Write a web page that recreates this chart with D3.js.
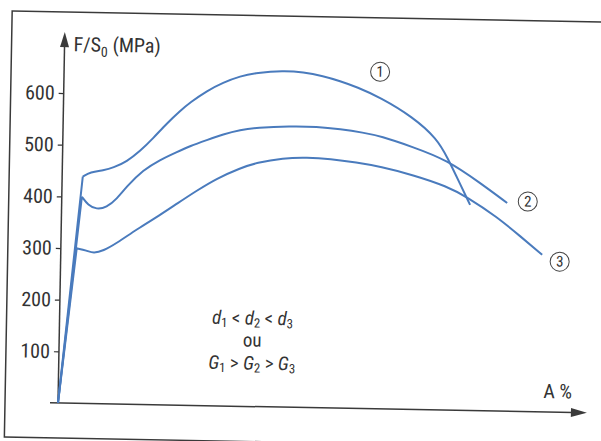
<!DOCTYPE html>
<html>
<head>
<meta charset="utf-8">
<script src="https://cdn.jsdelivr.net/npm/d3@7.9.0/dist/d3.min.js"></script>
<style>
  body { margin: 0; background: #fff; }
  svg { display: block; }
  text { font-family: "Liberation Sans Narrow", "Roboto Condensed", "Liberation Sans", Arial, sans-serif; fill: #333; }
</style>
</head>
<body>
<svg id="chart" width="601" height="441"></svg>
<script>
// y graduations (MPa)
const yTicks = [100, 200, 300, 400, 500, 600];

// A % has no graduation in the original, x is in arbitrary units along the axis
// [A, F/S0]
const curve1 = [[0, 0], [3.9, 439], [5.3, 448], [7.8, 452], [9.6, 457], [12.2, 470], [14.6, 490],
  [17.1, 516], [19.6, 545], [22.1, 570], [23.9, 586], [27.0, 609], [30.1, 626], [33.3, 639],
  [36.4, 646], [41.4, 651], [45.2, 649], [49.0, 642], [52.2, 633], [55.4, 622], [59.8, 603],
  [66.1, 566], [70.7, 525], [72.7, 490], [75.3, 437], [77.2, 398]];

const curve2 = [[0, 0], [3.8, 400], [5.0, 384], [6.6, 376], [8.5, 380], [10.4, 397], [12.2, 421],
  [15.3, 454], [18.4, 474], [21.6, 490], [24.1, 502], [27.2, 514], [30.3, 526], [33.5, 535],
  [36.6, 540], [42.9, 544], [48.0, 544], [52.4, 540], [56.8, 534], [60.0, 528], [66.2, 508],
  [72.7, 484], [79.0, 441], [84.2, 403]];

const curve3 = [[0, 0], [3.0, 300], [4.9, 296], [6.2, 291], [8.0, 296], [10.5, 311], [14.3, 339],
  [18.6, 367], [21.8, 390], [25.5, 416], [29.2, 440], [33.6, 461], [36.7, 472], [41.7, 482],
  [46.2, 484], [50.6, 482], [55.6, 476], [60.1, 469], [66.3, 454], [72.8, 433], [76.6, 413],
  [82.3, 376], [86.8, 339], [91.0, 304]];

const curves = [curve1, curve2, curve3];
const curveLabels = ['1', '2', '3'];

const svg = d3.select('#chart');

const x0 = 58, y0 = 403;
const xScale = d3.scaleLinear().domain([0, 100]).range([x0, x0 + 529]);
const yScale = d3.scaleLinear().domain([0, 600]).range([y0, y0 - 310]);

// the scanned page is slightly tilted
const g = svg.append('g').attr('transform', `rotate(1.05, ${x0}, ${y0})`);

// page frame
g.append('rect')
  .attr('x', 5).attr('y', 12)
  .attr('width', 640).attr('height', 426)
  .attr('fill', 'none')
  .attr('stroke', '#3a3a3a')
  .attr('stroke-width', 1.5);

// y axis ticks + labels
const yAxis = d3.axisLeft(yScale).tickValues(yTicks).tickSize(5).tickPadding(4);
const ya = g.append('g').attr('transform', `translate(${x0},0)`).call(yAxis);
ya.select('.domain').remove();
ya.selectAll('.tick line').attr('stroke', '#333').attr('stroke-width', 1.2);
ya.selectAll('.tick text')
  .style('font-family', '"Liberation Sans Narrow", "Roboto Condensed", "Liberation Sans", Arial, sans-serif')
  .style('font-size', '20px')
  .attr('fill', '#333');

// axis lines with arrows
const axisColor = '#3a3a3a';
g.append('line')
  .attr('x1', x0).attr('y1', y0)
  .attr('x2', x0).attr('y2', y0 - 358)
  .attr('stroke', axisColor).attr('stroke-width', 1.5);
g.append('path')
  .attr('d', `M${x0},${y0 - 371} L${x0 - 4.5},${y0 - 356} L${x0 + 4.5},${y0 - 356} Z`)
  .attr('fill', axisColor);

g.append('line')
  .attr('x1', x0 - 8).attr('y1', y0)
  .attr('x2', xScale(100) - 14).attr('y2', y0)
  .attr('stroke', axisColor).attr('stroke-width', 1.5);
g.append('path')
  .attr('d', `M${xScale(100)},${y0} L${xScale(100) - 16},${y0 - 4.5} L${xScale(100) - 16},${y0 + 4.5} Z`)
  .attr('fill', axisColor);

// axis titles
const yt = g.append('text')
  .attr('x', x0 + 9).attr('y', 51)
  .style('font-size', '20px');
yt.append('tspan').text('F/S');
yt.append('tspan').attr('dy', 5).style('font-size', '14px').text('0');
yt.append('tspan').attr('dy', -5).text(' (MPa)');

g.append('text')
  .attr('x', 543).attr('y', 389)
  .style('font-size', '20px')
  .text('A %');

// curves: elastic part straight, plastic part smoothed
const lineStraight = d3.line().x(d => xScale(d[0])).y(d => yScale(d[1]));
const lineSmooth = d3.line().x(d => xScale(d[0])).y(d => yScale(d[1])).curve(d3.curveBasis);

g.append('g')
  .selectAll('path')
  .data(curves)
  .join('path')
  .attr('d', d => lineStraight(d.slice(0, 2)) + lineSmooth(d.slice(1)))
  .attr('fill', 'none')
  .attr('stroke', '#4a7bbd')
  .attr('stroke-width', 2)
  .attr('stroke-linejoin', 'round');

// circled numbers
const labelPos = [[374, 66], [524, 193], [557, 252.5]];
const lab = g.append('g')
  .selectAll('g')
  .data(curveLabels)
  .join('g')
  .attr('transform', (d, i) => `translate(${labelPos[i][0]},${labelPos[i][1]})`);
lab.append('circle')
  .attr('r', 9.5)
  .attr('fill', '#fff')
  .attr('stroke', '#444')
  .attr('stroke-width', 1);
lab.append('text')
  .attr('text-anchor', 'middle')
  .attr('y', 5)
  .style('font-size', '15px')
  .text(d => d);

// annotation
function relation(y, letter, op) {
  const t = g.append('text')
    .attr('x', 251).attr('y', y)
    .attr('text-anchor', 'middle')
    .style('font-size', '19px');
  [1, 2, 3].forEach((n, i) => {
    t.append('tspan').style('font-style', 'italic').text(letter);
    t.append('tspan').attr('dy', 3).style('font-size', '13px').text(n);
    if (i < 2) t.append('tspan').attr('dy', -3).text(` ${op} `);
  });
}
relation(321, 'd', '<');
g.append('text')
  .attr('x', 251).attr('y', 343)
  .attr('text-anchor', 'middle')
  .style('font-size', '19px')
  .text('ou');
relation(366, 'G', '>');
</script>
</body>
</html>
